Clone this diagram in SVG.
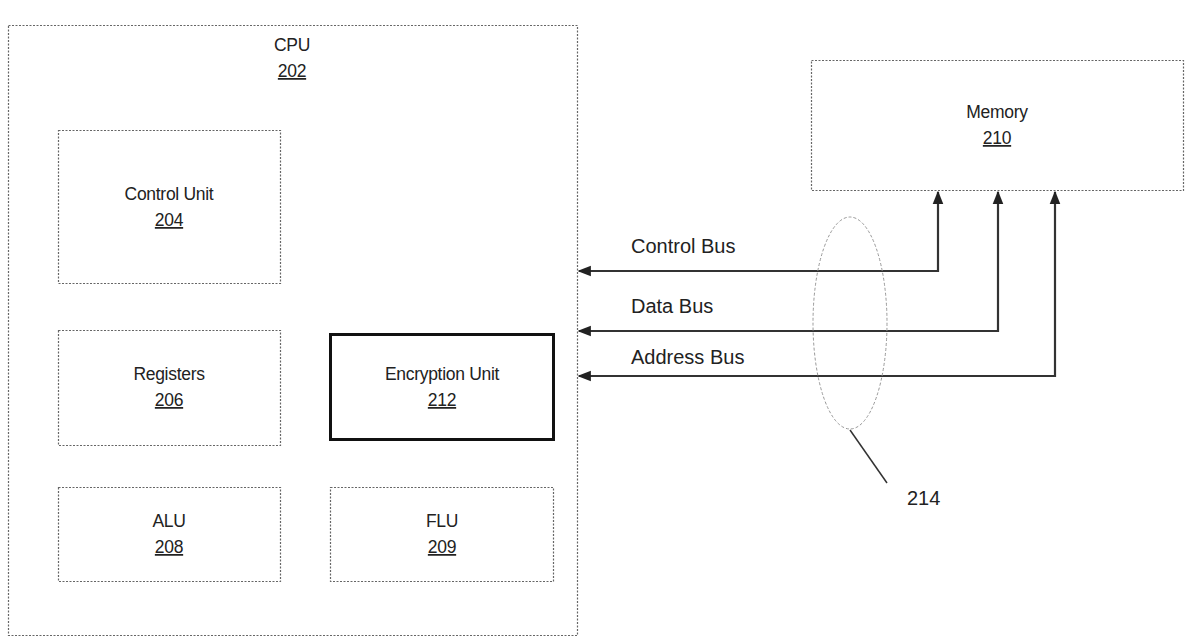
<svg xmlns="http://www.w3.org/2000/svg" width="1197" height="638" viewBox="0 0 1197 638">
<defs>
<style>
.box{fill:none;stroke:#666;stroke-width:1.2;stroke-dasharray:2 1.5}
.lbl{font-family:"Liberation Sans",Arial,sans-serif;font-size:17.5px;fill:#222;text-anchor:middle;letter-spacing:-0.3px}
.num{text-decoration:underline}
.bus{font-family:"Liberation Sans",Arial,sans-serif;font-size:20px;fill:#222}
.wire{fill:none;stroke:#333;stroke-width:2.2}
</style>
<marker id="ah" viewBox="0 0 10 10" refX="9" refY="5" markerWidth="6" markerHeight="6" orient="auto-start-reverse">
<path d="M0,1 L10,5 L0,9 Z" fill="#222"/>
</marker>
</defs>
<rect width="1197" height="638" fill="#fff"/>
<g id="cpu">
<rect class="box" x="8.5" y="25.5" width="569" height="610"/>
<text class="lbl" x="292" y="51">CPU</text>
<text class="lbl num" x="292" y="77">202</text>
</g>
<g id="control-unit">
<rect class="box" x="58.5" y="130.5" width="222" height="153"/>
<text class="lbl" x="169" y="200">Control Unit</text>
<text class="lbl num" x="169" y="226">204</text>
</g>
<g id="registers">
<rect class="box" x="58.5" y="330.5" width="222" height="115"/>
<text class="lbl" x="169" y="380">Registers</text>
<text class="lbl num" x="169" y="406">206</text>
</g>
<g id="encryption-unit">
<rect x="330.5" y="334.5" width="223" height="105" fill="none" stroke="#111" stroke-width="3"/>
<text class="lbl" x="442" y="380">Encryption Unit</text>
<text class="lbl num" x="442" y="406">212</text>
</g>
<g id="alu">
<rect class="box" x="58.5" y="487.5" width="222" height="94"/>
<text class="lbl" x="169" y="527">ALU</text>
<text class="lbl num" x="169" y="553">208</text>
</g>
<g id="flu">
<rect class="box" x="330.5" y="487.5" width="223" height="94"/>
<text class="lbl" x="442" y="527">FLU</text>
<text class="lbl num" x="442" y="553">209</text>
</g>
<g id="memory">
<rect class="box" x="811.5" y="60.5" width="372" height="130"/>
<text class="lbl" x="997" y="118">Memory</text>
<text class="lbl num" x="997" y="144">210</text>
</g>
<g id="connectors">
<path class="wire" d="M938,192 L938,271 L579,271" marker-start="url(#ah)" marker-end="url(#ah)"/>
<path class="wire" d="M998,192 L998,331 L579,331" marker-start="url(#ah)" marker-end="url(#ah)"/>
<path class="wire" d="M1055,192 L1055,376 L579,376" marker-start="url(#ah)" marker-end="url(#ah)"/>
<ellipse cx="850" cy="323" rx="37" ry="106" fill="none" stroke="#999" stroke-width="1" stroke-dasharray="3 2"/>
<line x1="850" y1="430" x2="887" y2="483" stroke="#333" stroke-width="1.5"/>
</g>
<g id="labels">
<text class="bus" x="631" y="253">Control Bus</text>
<text class="bus" x="631" y="313">Data Bus</text>
<text class="bus" x="631" y="364">Address Bus</text>
<text class="bus" x="907" y="505" font-size="18">214</text>
</g>
</svg>
